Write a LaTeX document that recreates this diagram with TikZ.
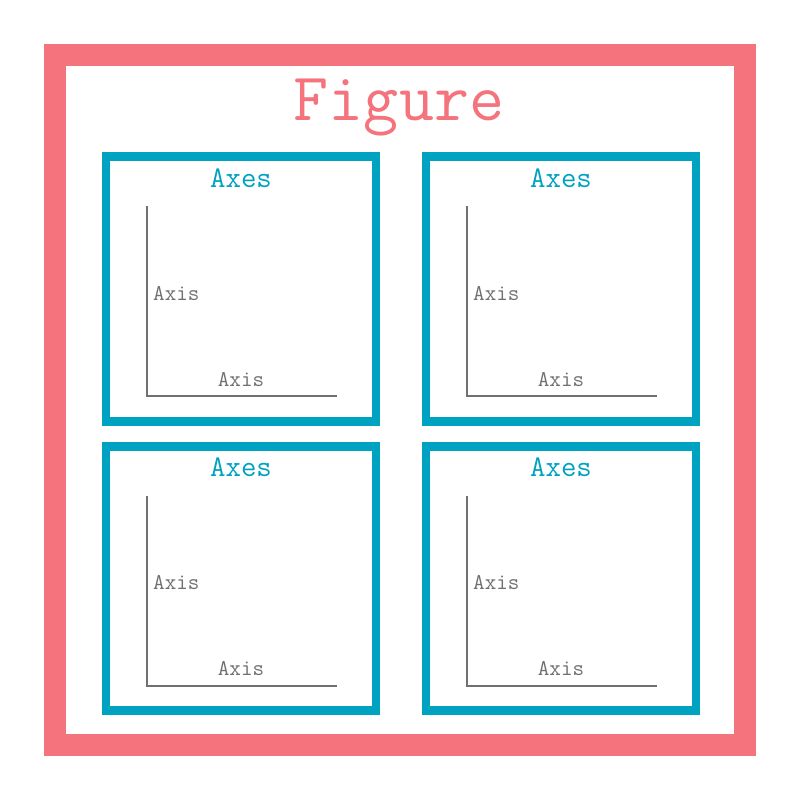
\documentclass[tikz,border=0pt]{standalone}
\usepackage{fontspec}
\usepackage{xcolor}
\usepackage{tikz}
\usetikzlibrary{positioning, calc}
\newfontfamily\monofont{Latin Modern Mono}
\definecolor{figred}{RGB}{244, 115, 124}
\definecolor{axesblue}{RGB}{0, 162, 194}
\definecolor{axisgray}{RGB}{112, 112, 112}

\begin{document}
\begin{tikzpicture}[
    x=1pt, y=-1pt,
    figframe/.style={rectangle, draw=figred, line width=22.5pt, minimum width=690pt, minimum height=690pt, inner sep=0pt},
    axesbox/.style={rectangle, draw=axesblue, line width=8.6pt, minimum width=270pt, minimum height=264.5pt, inner sep=0pt},
    figtitle/.style={font=\monofont\fontsize{68}{68}\selectfont, text=figred, anchor=base, inner sep=0pt},
    axestitle/.style={font=\monofont\fontsize{30}{30}\selectfont, text=axesblue, anchor=base, inner sep=0pt},
    axislabel/.style={font=\monofont\fontsize{22.5}{22.5}\selectfont, text=axisgray, inner sep=0pt},
    axisline/.style={draw=axisgray, line width=2pt}
]
    \useasboundingbox (0,0) rectangle (800,800);

    % Figure
    \node[figframe] (figure) at (400,400) {};
    \node[figtitle] (figlabel) at (399,120) {Figure};

    % Four axes
    \node[axesbox] (axesA) at (241,289) {};
    \node[axesbox] (axesB) at (561,289) {};
    \node[axesbox] (axesC) at (241,578.5) {};
    \node[axesbox] (axesD) at (561,578.5) {};

    \node[axestitle] (titleA) at (241,187.5) {Axes};
    \node[axestitle] (titleB) at (561,187.5) {Axes};
    \node[axestitle] (titleC) at (241,476.5) {Axes};
    \node[axestitle] (titleD) at (561,476.5) {Axes};

    % Axis lines
    \coordinate (originA) at (147,396);
    \coordinate (originB) at (467,396);
    \coordinate (originC) at (147,685.5);
    \coordinate (originD) at (467,685.5);

    \draw[axisline] ($(originA)+(0,-190)$) -- (originA) -- ++(190,0);
    \draw[axisline] ($(originB)+(0,-190)$) -- (originB) -- ++(190,0);
    \draw[axisline] ($(originC)+(0,-190)$) -- (originC) -- ++(190,0);
    \draw[axisline] ($(originD)+(0,-190)$) -- (originD) -- ++(190,0);

    % Axis labels
    \node[axislabel, anchor=base west] (yaxisA) at (153,300) {Axis};
    \node[axislabel, anchor=base west] (yaxisB) at (473,300) {Axis};
    \node[axislabel, anchor=base west] (yaxisC) at (153,589) {Axis};
    \node[axislabel, anchor=base west] (yaxisD) at (473,589) {Axis};

    \node[axislabel, anchor=base] (xaxisA) at (241,386.5) {Axis};
    \node[axislabel, anchor=base] (xaxisB) at (561,386.5) {Axis};
    \node[axislabel, anchor=base] (xaxisC) at (241,675.5) {Axis};
    \node[axislabel, anchor=base] (xaxisD) at (561,675.5) {Axis};

\end{tikzpicture}
\end{document}
